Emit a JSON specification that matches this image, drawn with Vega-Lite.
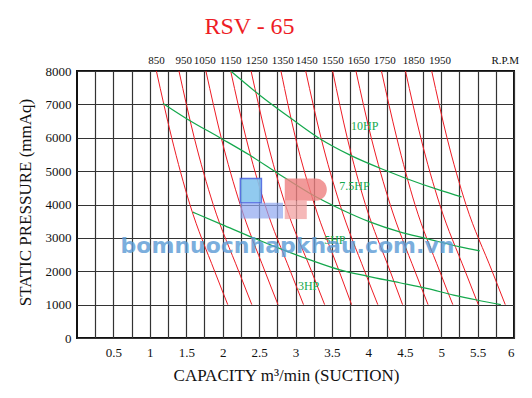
{
  "$schema": "https://vega.github.io/schema/vega-lite/v6.json",
  "width": 437,
  "height": 267,
  "autosize": {"type": "none"},
  "padding": {"left": 77, "top": 71, "right": 18, "bottom": 60},
  "background": "white",
  "config": {"view": {"stroke": "#111", "strokeWidth": 2}, "font": "Liberation Serif"},
  "title": {"text": "RSV - 65", "font": "Liberation Serif", "fontSize": 24, "fontWeight": "normal", "color": "#ee1c25", "anchor": "middle", "dx": -46, "offset": 16},
  "datasets": {
    "rpm": [
      {"rpm": 850, "q": 1.09, "p": 8000}, {"rpm": 850, "q": 1.30, "p": 6000}, {"rpm": 850, "q": 1.55, "p": 4000}, {"rpm": 850, "q": 1.89, "p": 2000}, {"rpm": 850, "q": 2.07, "p": 1000},
      {"rpm": 950, "q": 1.40, "p": 8000}, {"rpm": 950, "q": 1.61, "p": 6000}, {"rpm": 950, "q": 1.87, "p": 4000}, {"rpm": 950, "q": 2.22, "p": 2000}, {"rpm": 950, "q": 2.40, "p": 1000},
      {"rpm": 1050, "q": 1.77, "p": 8000}, {"rpm": 1050, "q": 1.98, "p": 6000}, {"rpm": 1050, "q": 2.24, "p": 4000}, {"rpm": 1050, "q": 2.58, "p": 2000}, {"rpm": 1050, "q": 2.76, "p": 1000},
      {"rpm": 1150, "q": 2.11, "p": 8000}, {"rpm": 1150, "q": 2.32, "p": 6000}, {"rpm": 1150, "q": 2.58, "p": 4000}, {"rpm": 1150, "q": 2.93, "p": 2000}, {"rpm": 1150, "q": 3.11, "p": 1000},
      {"rpm": 1250, "q": 2.39, "p": 8000}, {"rpm": 1250, "q": 2.60, "p": 6000}, {"rpm": 1250, "q": 2.86, "p": 4000}, {"rpm": 1250, "q": 3.22, "p": 2000}, {"rpm": 1250, "q": 3.40, "p": 1000},
      {"rpm": 1350, "q": 2.80, "p": 8000}, {"rpm": 1350, "q": 3.00, "p": 6000}, {"rpm": 1350, "q": 3.26, "p": 4000}, {"rpm": 1350, "q": 3.60, "p": 2000}, {"rpm": 1350, "q": 3.77, "p": 1000},
      {"rpm": 1450, "q": 3.14, "p": 8000}, {"rpm": 1450, "q": 3.35, "p": 6000}, {"rpm": 1450, "q": 3.61, "p": 4000}, {"rpm": 1450, "q": 3.95, "p": 2000}, {"rpm": 1450, "q": 4.13, "p": 1000},
      {"rpm": 1550, "q": 3.51, "p": 8000}, {"rpm": 1550, "q": 3.71, "p": 6000}, {"rpm": 1550, "q": 3.96, "p": 4000}, {"rpm": 1550, "q": 4.30, "p": 2000}, {"rpm": 1550, "q": 4.47, "p": 1000},
      {"rpm": 1650, "q": 3.83, "p": 8000}, {"rpm": 1650, "q": 4.04, "p": 6000}, {"rpm": 1650, "q": 4.30, "p": 4000}, {"rpm": 1650, "q": 4.64, "p": 2000}, {"rpm": 1650, "q": 4.82, "p": 1000},
      {"rpm": 1750, "q": 4.18, "p": 8000}, {"rpm": 1750, "q": 4.39, "p": 6000}, {"rpm": 1750, "q": 4.64, "p": 4000}, {"rpm": 1750, "q": 4.98, "p": 2000}, {"rpm": 1750, "q": 5.16, "p": 1000},
      {"rpm": 1850, "q": 4.51, "p": 8000}, {"rpm": 1850, "q": 4.72, "p": 6000}, {"rpm": 1850, "q": 4.98, "p": 4000}, {"rpm": 1850, "q": 5.33, "p": 2000}, {"rpm": 1850, "q": 5.51, "p": 1000},
      {"rpm": 1950, "q": 4.87, "p": 8000}, {"rpm": 1950, "q": 5.08, "p": 6000}, {"rpm": 1950, "q": 5.34, "p": 4000}, {"rpm": 1950, "q": 5.70, "p": 2000}, {"rpm": 1950, "q": 5.88, "p": 1000}
    ],
    "rpmlab": [
      {"label": "850", "q": 1.093}, {"label": "950", "q": 1.464}, {"label": "1050", "q": 1.753}, {"label": "1150", "q": 2.11},
      {"label": "1250", "q": 2.467}, {"label": "1350", "q": 2.825}, {"label": "1450", "q": 3.155}, {"label": "1550", "q": 3.512},
      {"label": "1650", "q": 3.869}, {"label": "1750", "q": 4.227}, {"label": "1850", "q": 4.625}, {"label": "1950", "q": 4.983},
      {"label": "R.P.M", "q": 5.88}
    ],
    "hp": [
      {"curve": "10HP", "q": 2.11, "p": 8000}, {"curve": "10HP", "q": 2.51, "p": 7275}, {"curve": "10HP", "q": 2.97, "p": 6530}, {"curve": "10HP", "q": 3.33, "p": 5980}, {"curve": "10HP", "q": 3.75, "p": 5480}, {"curve": "10HP", "q": 4.25, "p": 5010}, {"curve": "10HP", "q": 4.52, "p": 4780}, {"curve": "10HP", "q": 4.98, "p": 4430}, {"curve": "10HP", "q": 5.28, "p": 4230},
      {"curve": "7.5HP", "q": 1.18, "p": 7030}, {"curve": "7.5HP", "q": 1.50, "p": 6580}, {"curve": "7.5HP", "q": 1.98, "p": 5980}, {"curve": "7.5HP", "q": 2.37, "p": 5480}, {"curve": "7.5HP", "q": 2.78, "p": 4900}, {"curve": "7.5HP", "q": 3.20, "p": 4330}, {"curve": "7.5HP", "q": 3.65, "p": 3830}, {"curve": "7.5HP", "q": 4.02, "p": 3480}, {"curve": "7.5HP", "q": 4.43, "p": 3180}, {"curve": "7.5HP", "q": 4.80, "p": 2980}, {"curve": "7.5HP", "q": 5.26, "p": 2730}, {"curve": "7.5HP", "q": 5.53, "p": 2610},
      {"curve": "3HP", "q": 1.59, "p": 3770}, {"curve": "3HP", "q": 2.00, "p": 3390}, {"curve": "3HP", "q": 2.42, "p": 3000}, {"curve": "3HP", "q": 2.83, "p": 2640}, {"curve": "3HP", "q": 3.20, "p": 2340}, {"curve": "3HP", "q": 3.61, "p": 2040}, {"curve": "3HP", "q": 3.98, "p": 1856}, {"curve": "3HP", "q": 4.43, "p": 1656}, {"curve": "3HP", "q": 4.80, "p": 1488}, {"curve": "3HP", "q": 5.17, "p": 1287}, {"curve": "3HP", "q": 5.49, "p": 1138}, {"curve": "3HP", "q": 5.82, "p": 1000}
    ],
    "hplab": [
      {"label": "10HP", "q": 3.95, "p": 6350},
      {"label": "7.5HP", "q": 3.81, "p": 4550},
      {"label": "5HP", "q": 3.54, "p": 2930},
      {"label": "3HP", "q": 3.18, "p": 1560}
    ]
  },
  "layer": [
    {
      "data": {"name": "rpm"},
      "mark": {"type": "line", "color": "#ee1c25", "strokeWidth": 1, "interpolate": "monotone"},
      "encoding": {
        "x": {"field": "q", "type": "quantitative", "scale": {"domain": [0, 6], "nice": false, "zero": false},
          "axis": {"values": [0.25, 0.5, 0.75, 1, 1.25, 1.5, 1.75, 2, 2.25, 2.5, 2.75, 3, 3.25, 3.5, 3.75, 4, 4.25, 4.5, 4.75, 5, 5.25, 5.5, 5.75, 6],
            "tickCount": 100, "labelOverlap": false,
            "format": "~g", "labelExpr": "datum.value % 0.5 == 0 ? datum.label : ''",
            "grid": true, "gridColor": "#333", "gridWidth": 1.2, "gridOpacity": 1,
            "ticks": false, "domain": false, "labelFont": "Liberation Serif", "labelFontSize": 13, "labelColor": "#111", "labelPadding": 8,
            "title": "CAPACITY m³/min (SUCTION)", "titleFont": "Liberation Serif", "titleFontSize": 17, "titleFontWeight": "normal", "titleColor": "#111",
            "titleX": 209, "titleY": 42, "titleBaseline": "alphabetic"}},
        "y": {"field": "p", "type": "quantitative", "scale": {"domain": [0, 8000], "nice": false},
          "axis": {"values": [0, 1000, 2000, 3000, 4000, 5000, 6000, 7000, 8000], "format": "d",
            "tickCount": 100, "labelOverlap": false,
            "grid": true, "gridColor": "#333", "gridWidth": 1.2, "gridOpacity": 1,
            "ticks": false, "domain": false, "labelFont": "Liberation Serif", "labelFontSize": 13, "labelColor": "#111", "labelPadding": 6,
            "title": "STATIC PRESSURE (mmAq)", "titleFont": "Liberation Serif", "titleFontSize": 17, "titleFontWeight": "normal", "titleColor": "#111",
            "titleX": -52, "titleY": 131, "titleBaseline": "middle", "titleAlign": "center", "titleAngle": -90}},
        "detail": {"field": "rpm", "type": "nominal"}
      }
    },
    {
      "data": {"name": "rpmlab"},
      "mark": {"type": "text", "font": "Liberation Serif", "fontSize": 11, "color": "#111", "baseline": "alphabetic", "dy": -7},
      "encoding": {
        "x": {"field": "q", "type": "quantitative"},
        "y": {"datum": 8000},
        "text": {"field": "label", "type": "nominal"}
      }
    },
    {
      "data": {"name": "hp"},
      "mark": {"type": "line", "color": "#14a84c", "strokeWidth": 1.2, "interpolate": "monotone"},
      "encoding": {
        "x": {"field": "q", "type": "quantitative"},
        "y": {"field": "p", "type": "quantitative"},
        "detail": {"field": "curve", "type": "nominal"}
      }
    },
    {
      "data": {"name": "hplab"},
      "mark": {"type": "text", "font": "Liberation Serif", "fontSize": 12, "color": "#14a84c", "baseline": "middle"},
      "encoding": {
        "x": {"field": "q", "type": "quantitative"},
        "y": {"field": "p", "type": "quantitative"},
        "text": {"field": "label", "type": "nominal"}
      }
    },
    {
      "data": {"values": [{}]},
      "mark": {"type": "rect", "color": "#86c5ee", "stroke": "#4a66e0", "strokeWidth": 1.5, "opacity": 0.9},
      "encoding": {"x": {"datum": 2.243}, "x2": {"datum": 2.532}, "y": {"datum": 4781}, "y2": {"datum": 4051}}
    },
    {
      "data": {"values": [{}]},
      "mark": {"type": "rect", "color": "#8fa6f0", "opacity": 0.7},
      "encoding": {"x": {"datum": 2.243}, "x2": {"datum": 2.829}, "y": {"datum": 4051}, "y2": {"datum": 3584}}
    },
    {
      "data": {"values": [{}]},
      "mark": {"type": "rect", "color": "#ee8080", "opacity": 0.8, "cornerRadiusTopRight": 11, "cornerRadiusBottomRight": 11},
      "encoding": {"x": {"datum": 2.852}, "x2": {"datum": 3.43}, "y": {"datum": 4781}, "y2": {"datum": 4110}}
    },
    {
      "data": {"values": [{}]},
      "mark": {"type": "rect", "color": "#f2a0a0", "opacity": 0.75},
      "encoding": {"x": {"datum": 2.852}, "x2": {"datum": 3.155}, "y": {"datum": 4110}, "y2": {"datum": 3563}}
    },
    {
      "data": {"values": [{}]},
      "mark": {"type": "text", "text": "bomnuocnhapkhau.com.vn", "font": "DejaVu Sans", "fontWeight": "bold", "fontSize": 22, "color": "#5b9bd5", "opacity": 0.8, "baseline": "middle", "align": "center"},
      "encoding": {"x": {"datum": 2.89}, "y": {"datum": 2754}}
    }
  ]
}
